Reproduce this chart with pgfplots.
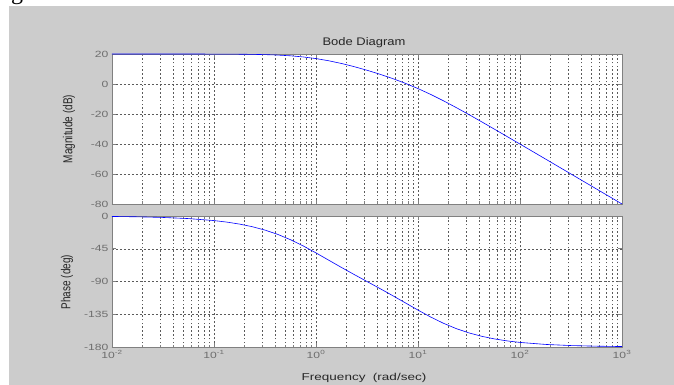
\documentclass[border=0pt]{standalone}
\usepackage{fontspec}
\setmainfont{Liberation Sans}
\newfontfamily\widefont[FakeStretch=1.35]{Liberation Sans}
\newfontfamily\titlefont[FakeStretch=1.18]{Liberation Sans}
\newfontfamily\narrowfont[FakeStretch=0.77]{Liberation Sans}
\newfontfamily\seriffont{Liberation Serif}
\usepackage{pgfplots}
\pgfplotsset{compat=1.18}
\definecolor{figgray}{RGB}{204,204,204}
\definecolor{lblgray}{RGB}{110,110,110}
\definecolor{axgray}{RGB}{128,128,128}
\definecolor{gridgray}{RGB}{90,90,90}

\begin{document}
\begin{tikzpicture}
\useasboundingbox (0pt,0pt) rectangle (674pt,-385pt);
\fill[white] (0pt,0pt) rectangle (674pt,-385pt);
\fill[figgray] (9pt,-6pt) rectangle (674pt,-385pt);
\begin{scope}
\clip (0pt,0pt) rectangle (60pt,-6pt);
\node[anchor=base west, inner sep=0pt, font=\seriffont\fontsize{24}{24}\selectfont] at (11pt,0pt) {g};
\end{scope}

\begin{axis}[at={(112pt,-54pt)}, anchor=north west, height=150pt,
  scale only axis, width=510pt,
  xmode=log, log basis x=10, xmin=1e-2, xmax=1e3,
  xtick={1e-2,1e-1,1,1e1,1e2,1e3},
  minor xtick={0.02,0.03,0.04,0.05,0.06,0.07,0.08,0.09,0.2,0.3,0.4,0.5,0.6,0.7,0.8,0.9,2,3,4,5,6,7,8,9,20,30,40,50,60,70,80,90,200,300,400,500,600,700,800,900},
  axis background/.style={fill=white},
  xmajorgrids, xminorgrids, ymajorgrids,
  major grid style={gridgray, dash pattern=on 2pt off 2pt, line width=0.5pt},
  minor grid style={gridgray, dash pattern=on 1.6pt off 2.2pt, line width=0.5pt},
  axis line style={axgray, line width=0.9pt},
  tick align=inside,
  tick style={axgray, line width=0.6pt},
  major tick length=4pt, minor tick length=2.5pt,
  ticklabel style={font=\widefont\fontsize{9}{10}\selectfont, text=lblgray},
  clip=false,
  ymin=-80, ymax=20, ytick={-80,-60,-40,-20,0,20},
  yticklabels={-80,-60,-40,-20,0,20},
  xticklabels={}]
\addplot[color=blue, line width=0.6pt, mark=none] coordinates {(0.01,19.9996)(0.017783,19.9986)(0.031623,19.9956)(0.056234,19.986)(0.1,19.956)(0.13335,19.923)(0.17783,19.863)(0.23714,19.760)(0.31623,19.582)(0.42170,19.282)(0.56234,18.793)(0.74989,18.038)(1,16.946)(1.33352,15.486)(1.77828,13.671)(2.37137,11.552)(3.16228,9.172)(4.21697,6.552)(5.62341,3.672)(7.49894,0.485)(10,-3.053)(13.3352,-6.962)(17.7828,-11.207)(23.7137,-15.719)(31.6228,-20.418)(42.1697,-25.239)(56.2341,-30.136)(74.9894,-35.078)(100,-40.043)(177.828,-50.014)(316.228,-60.004)(562.341,-70.001)(1000,-80.000)};
\end{axis}

\begin{axis}[at={(112pt,-216pt)}, anchor=north west, height=131pt,
  scale only axis, width=510pt,
  xmode=log, log basis x=10, xmin=1e-2, xmax=1e3,
  xtick={1e-2,1e-1,1,1e1,1e2,1e3},
  minor xtick={0.02,0.03,0.04,0.05,0.06,0.07,0.08,0.09,0.2,0.3,0.4,0.5,0.6,0.7,0.8,0.9,2,3,4,5,6,7,8,9,20,30,40,50,60,70,80,90,200,300,400,500,600,700,800,900},
  axis background/.style={fill=white},
  xmajorgrids, xminorgrids, ymajorgrids,
  major grid style={gridgray, dash pattern=on 2pt off 2pt, line width=0.5pt},
  minor grid style={gridgray, dash pattern=on 1.6pt off 2.2pt, line width=0.5pt},
  axis line style={axgray, line width=0.9pt},
  tick align=inside,
  tick style={axgray, line width=0.6pt},
  major tick length=4pt, minor tick length=2.5pt,
  ticklabel style={font=\widefont\fontsize{9}{10}\selectfont, text=lblgray},
  clip=false,
  ymin=-180, ymax=0, ytick={-180,-135,-90,-45,0},
  yticklabels={-180,-135,-90,-45,0},
  xticklabels={10\textsuperscript{-2},10\textsuperscript{-1},10\textsuperscript{0},10\textsuperscript{1},10\textsuperscript{2},10\textsuperscript{3}}]
\addplot[color=blue, line width=0.6pt, mark=none] coordinates {(0.01,-0.630)(0.017783,-1.12)(0.031623,-1.992)(0.056234,-3.54)(0.1,-6.284)(0.13335,-8.36)(0.17783,-11.10)(0.23714,-14.70)(0.31623,-19.36)(0.42170,-25.28)(0.56234,-32.57)(0.74989,-41.15)(1,-50.71)(1.33352,-60.73)(1.77828,-70.73)(2.37137,-80.47)(3.16228,-90.00)(4.21697,-99.53)(5.62341,-109.27)(7.49894,-119.27)(10,-129.29)(13.3352,-138.84)(17.7828,-147.43)(23.7137,-154.72)(31.6228,-160.64)(42.1697,-165.30)(56.2341,-168.90)(74.9894,-171.64)(100,-173.72)(177.828,-176.46)(316.228,-178.01)(562.341,-178.88)(1000,-179.37)};
\end{axis}

\node[font=\titlefont\fontsize{11}{12}\selectfont, text=black!85] at (364pt,-42.5pt) {Bode Diagram};
\node[font=\widefont\fontsize{10}{12}\selectfont, text=black!85] at (364pt,-378pt) {Frequency\ \ (rad/sec)};
\node[rotate=90, font=\narrowfont\fontsize{13}{14}\selectfont, text=black!85] at (69pt,-129pt) {Magnitude (dB)};
\node[rotate=90, font=\narrowfont\fontsize{13}{14}\selectfont, text=black!85] at (67pt,-282pt) {Phase (deg)};
\end{tikzpicture}
\end{document}
